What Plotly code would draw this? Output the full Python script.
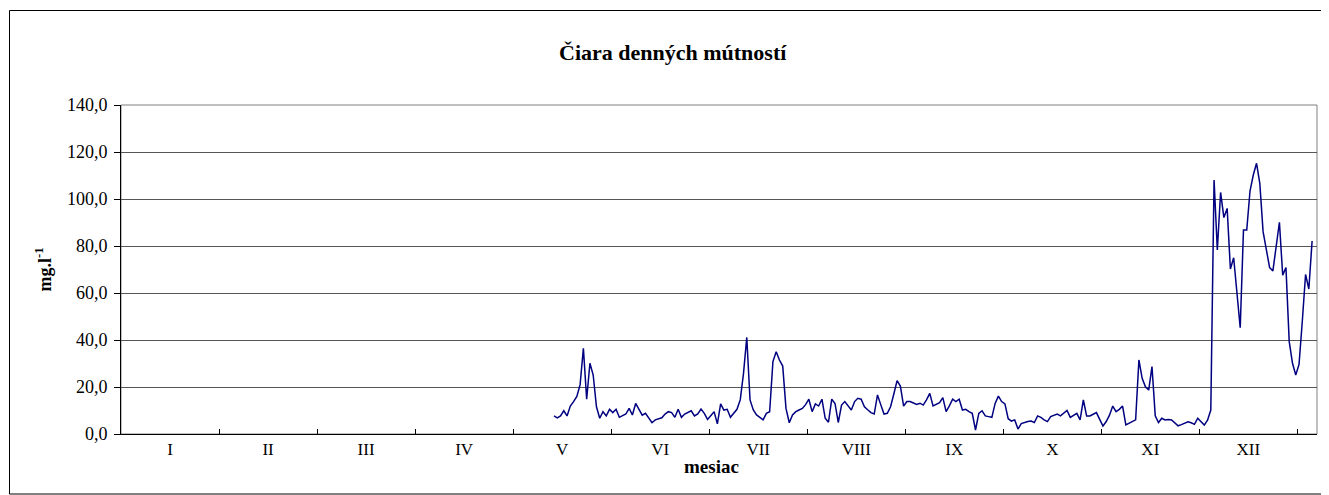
import plotly.graph_objects as go

# ---- data ----
start_day = 132
turbidity = [
    7.7, 6.9, 7.7, 9.9, 7.7, 11.9, 13.8, 16.0, 21.0, 36.5,
    14.8, 30.1, 25.1, 11.6, 6.7, 9.5, 7.7, 10.5, 9.1, 10.5,
    7.1, 7.8, 8.5, 10.9, 8.1, 13.0, 10.2, 8.0, 8.8, 6.5,
    4.8, 6.0, 6.4, 6.9, 8.5, 9.5, 9.1, 7.1,
    10.5, 7.1, 8.5, 9.2, 9.9, 7.7, 8.5, 10.6, 8.8, 6.2,
    7.7, 9.5, 4.3, 12.8, 10.2, 10.5, 7.1, 8.8, 10.5, 14.5,
    25.8, 41.1, 14.5, 10.2, 8.1, 7.1, 6.0, 8.8, 9.5, 30.8,
    35.0, 31.5, 28.9, 10.9, 4.8, 8.1, 9.5, 10.2,
    10.9, 12.5, 14.8, 9.5, 12.8, 11.9, 14.8, 6.7, 5.0, 14.8,
    13.0, 4.9, 12.3, 13.8, 12.0, 10.2, 13.8, 15.2, 14.8, 11.6,
    10.3, 9.1, 8.5, 16.6, 12.5, 8.5, 8.8, 11.6, 17.0, 22.7,
    20.4, 11.9, 13.8, 13.8, 13.2, 12.6,
    13.1, 12.3, 14.5, 17.3, 11.9, 12.5, 13.3, 15.5, 9.5, 12.0,
    14.8, 13.8, 14.8, 10.2, 10.5, 9.5, 8.8, 1.7, 8.8, 9.9,
    7.7, 7.4, 7.1, 13.0, 16.1, 13.8, 12.8, 6.5, 5.5, 6.0,
    2.1, 4.4, 5.0, 5.3, 5.5, 4.9, 7.7, 7.1,
    6.0, 5.3, 7.4, 8.0, 8.5, 7.7, 9.0, 10.0, 7.1, 8.0,
    8.8, 6.0, 14.5, 7.7, 7.7, 8.4, 9.1, 6.2, 3.4, 5.3,
    8.0, 11.9, 9.5, 10.5, 11.9, 3.9, 4.6, 5.3, 6.0, 31.5,
    23.7, 20.1, 18.7, 28.7, 7.7, 4.9, 6.7, 6.0, 6.2, 6.0,
    4.7,
    3.5, 4.0, 4.5, 5.2, 4.8, 4.1, 6.7, 5.0, 3.8, 5.9,
    10.2, 108.1, 78.3, 102.8, 92.1, 96.0, 70.2, 75.0, 60.0, 45.2,
    86.8, 86.8, 103.4, 110.2, 115.2, 106.7, 86.1, 77.6, 70.8, 69.4,
    80.4, 90.1, 67.6, 70.8, 39.3, 30.1, 25.1, 29.6, 48.0, 67.9,
    61.7, 82.1,
]
months = ["I", "II", "III", "IV", "V", "VI", "VII", "VIII", "IX", "X", "XI", "XII"]
n_categories = 366
month_step = 30
y_ticks = [0, 20, 40, 60, 80, 100, 120, 140]

days = [start_day + i + 0.5 for i in range(len(turbidity))]
label_pos = [month_step * k + month_step / 2 for k in range(len(months))]
tick_pos = [month_step * (k + 1) for k in range(len(months))]

# page body has an 8px margin, so the figure is drawn 8px in from the corner
OFF = 8
W, H = 1329 - OFF, 495 - OFF
L, R, T, B = 121 - OFF, 1317 - OFF, 105 - OFF, 434 - OFF
pw, ph = R - L, B - T


def px(x):
    return (x - OFF - L) / pw


def py(y):
    return (B - (y - OFF)) / ph


FONT = "Liberation Serif, Times New Roman, serif"

fig = go.Figure()
fig.add_trace(go.Scatter(
    x=days, y=turbidity, mode="lines",
    line=dict(color="#000080", width=1.5),
    hoverinfo="skip", showlegend=False,
))

fig.update_layout(
    width=W, height=H,
    margin=dict(l=L, r=W - R, t=T, b=H - B, pad=0),
    paper_bgcolor="white", plot_bgcolor="white",
    separators=", ",
    font=dict(family=FONT, size=17, color="black"),
    showlegend=False,
)

fig.update_xaxes(
    range=[0, n_categories],
    tickmode="array", tickvals=label_pos, ticktext=months,
    ticks="", showgrid=False, zeroline=False,
    showline=True, linecolor="black", linewidth=1,
    tickfont=dict(family=FONT, size=17),
    minor=dict(tickmode="array", tickvals=tick_pos, ticks="inside",
               ticklen=5, tickcolor="black", tickwidth=1, showgrid=False),
    fixedrange=True,
)
fig.update_yaxes(
    range=[0, 140],
    tickmode="array", tickvals=y_ticks, tickformat=".1f",
    ticks="outside", ticklen=6, tickcolor="black",
    ticklabelstandoff=3,
    showgrid=True, gridcolor="#555555", gridwidth=1,
    zeroline=False,
    showline=True, linecolor="black", linewidth=1,
    tickfont=dict(family=FONT, size=18),
    fixedrange=True,
)

shapes = [
    # outer chart border
    dict(type="rect", xref="paper", yref="paper",
         x0=px(9.5), x1=px(1327.5), y0=py(494), y1=py(10.5),
         line=dict(color="black", width=1), layer="below"),
    # plot area border (gray)
    dict(type="rect", xref="paper", yref="paper",
         x0=0, x1=1, y0=0, y1=1,
         line=dict(color="#808080", width=1), layer="below"),
]
fig.update_layout(shapes=shapes)

fig.add_annotation(
    text="<b>Čiara denných mútností</b>", xref="paper", yref="paper",
    x=px(673), y=py(52), showarrow=False, xanchor="center", yanchor="middle",
    font=dict(family=FONT, size=22, color="black"),
)
fig.add_annotation(
    text="<b>mesiac</b>", xref="paper", yref="paper",
    x=px(711), y=py(466), showarrow=False, xanchor="center", yanchor="middle",
    font=dict(family=FONT, size=19, color="black"),
)
fig.add_annotation(
    text="<b>mg.l<sup>-1</sup></b>", xref="paper", yref="paper",
    x=px(44), y=0.5, showarrow=False, xanchor="center", yanchor="middle",
    textangle=-90,
    font=dict(family=FONT, size=18, color="black"),
)

fig.write_html("out.html")
